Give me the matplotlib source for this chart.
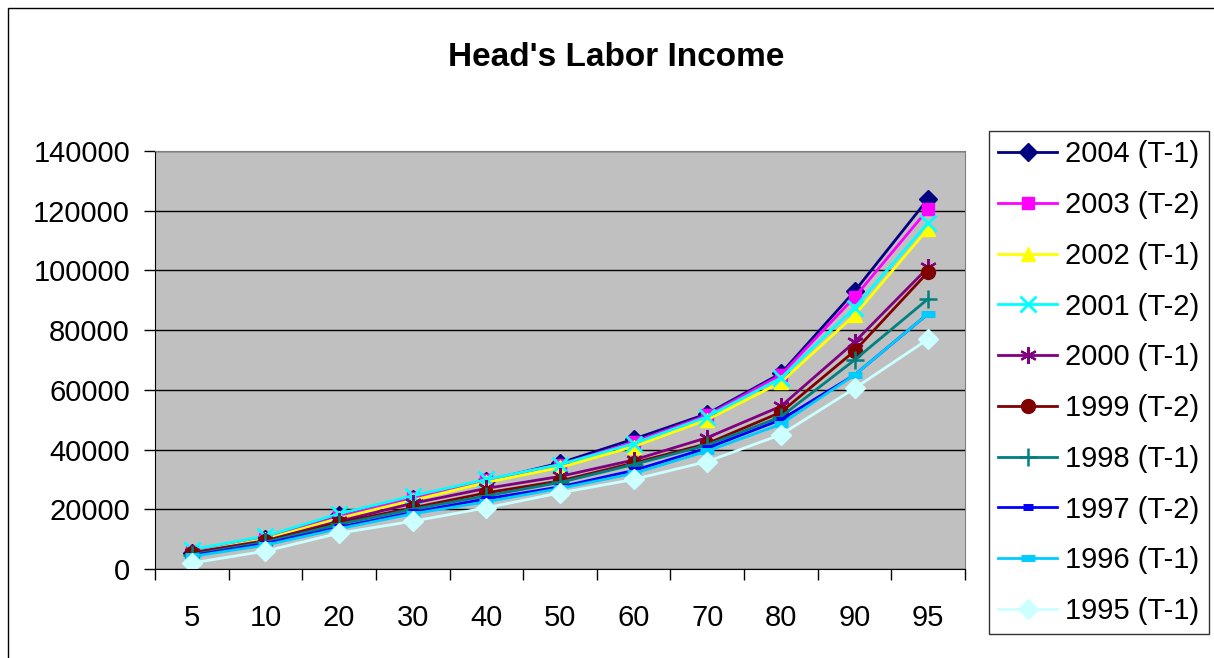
import matplotlib
matplotlib.use("Agg")
import matplotlib.pyplot as plt
from matplotlib.patches import Rectangle
import numpy as np

plt.rcParams['font.family'] = ['Liberation Sans', 'DejaVu Sans']

# percentiles on the x axis
pcts = ['5', '10', '20', '30', '40', '50', '60', '70', '80', '90', '95']

labels = ['2004 (T-1)', '2003 (T-2)', '2002 (T-1)', '2001 (T-2)', '2000 (T-1)',
          '1999 (T-2)', '1998 (T-1)', '1997 (T-2)', '1996 (T-1)', '1995 (T-1)']

y2004 = [5500, 10000, 18000, 23500, 29500, 35500, 43500, 52000, 65500, 93000, 124000]
y2003 = [5800, 10200, 17500, 23800, 29800, 35000, 42500, 51500, 65000, 91000, 120500]
y2002 = [5500, 10000, 17000, 23000, 29000, 34000, 41000, 50000, 62500, 85000, 114000]
y2001 = [6500, 11000, 18500, 24500, 30000, 35000, 42000, 51000, 64000, 87500, 116000]
y2000 = [5500, 9500, 16000, 22000, 27000, 31000, 36500, 44000, 54500, 76000, 101000]
y1999 = [5200, 9300, 15500, 20500, 25500, 29500, 35500, 42000, 52500, 73000, 99500]
y1998 = [4800, 9000, 15000, 20000, 24500, 29000, 35000, 41500, 51000, 70000, 90500]
y1997 = [4500, 8500, 14000, 19000, 23500, 27500, 33000, 40500, 50000, 65000, 85500]
y1996 = [4200, 8000, 13500, 18500, 22500, 27000, 32000, 39500, 48500, 65000, 85500]
y1995 = [2000, 6000, 12000, 16000, 20500, 25500, 30000, 36000, 45000, 60500, 77000]

series = [y2004, y2003, y2002, y2001, y2000, y1999, y1998, y1997, y1996, y1995]

colors = ['#000080', '#FF00FF', '#FFFF00', '#00FFFF', '#800080',
          '#800000', '#008080', '#0000FF', '#00CCFF', '#CCFFFF']
# marker, size, edge width
markers = [('D', 9, 1), ('s', 9, 1), ('^', 10, 1), ('x', 11, 2), ((6, 2, 0), 12, 1.6),
           ('o', 10, 1), ('+', 13, 1.8), ('_', 7, 5), ('_', 10, 5), ('D', 10, 1)]

fig = plt.figure(figsize=(12.14, 6.58), dpi=100)
ax = fig.add_axes([155/1214, 1-569/658, (965-155)/1214, (569-151)/658])
ax.set_facecolor('#C0C0C0')

x = np.arange(len(pcts))
for ys, c, (m, ms, mew), lab in zip(series, colors, markers, labels):
    ax.plot(x, ys, color=c, lw=2, marker=m, ms=ms, mew=mew,
            mfc=c, mec=c, label=lab)

ax.set_xlim(-0.5, len(pcts) - 0.5)
ax.set_ylim(0, 140000)
ax.set_yticks(np.arange(0, 140001, 20000))
ax.yaxis.grid(True, color='black', lw=1)
ax.set_axisbelow(True)

# category ticks sit between the labels
ax.set_xticks(np.arange(len(pcts) + 1) - 0.5)
ax.set_xticklabels([])
ax.set_xticks(x, minor=True)
ax.set_xticklabels(pcts, minor=True)
ax.tick_params(axis='x', which='major', length=8, width=1, direction='out')
ax.tick_params(axis='x', which='minor', length=0, pad=25, labelsize=21)
ax.tick_params(axis='y', length=8, width=1, direction='out', pad=10, labelsize=21)

for s in ['top', 'right']:
    ax.spines[s].set_color('#808080')
for s in ['left', 'bottom']:
    ax.spines[s].set_color('black')

fig.text(616/1214, 1-57/658, "Head's Labor Income", ha='center', va='center',
         fontsize=24, fontweight='bold')

leg = fig.legend(loc='upper left', bbox_to_anchor=(989/1214, 1-131/658),
                 borderaxespad=0, fontsize=21, frameon=True, fancybox=False,
                 edgecolor='black', handlelength=2.0, handletextpad=0.28,
                 borderpad=0.32, labelspacing=0.78)
leg.get_frame().set_linewidth(1)

# outer chart border
fig.patches.append(Rectangle((8/1214, -0.1), 1.2, 1.1 - 8/658, transform=fig.transFigure,
                             fill=False, edgecolor='black', lw=1))

fig.savefig('out.png', dpi=100)
